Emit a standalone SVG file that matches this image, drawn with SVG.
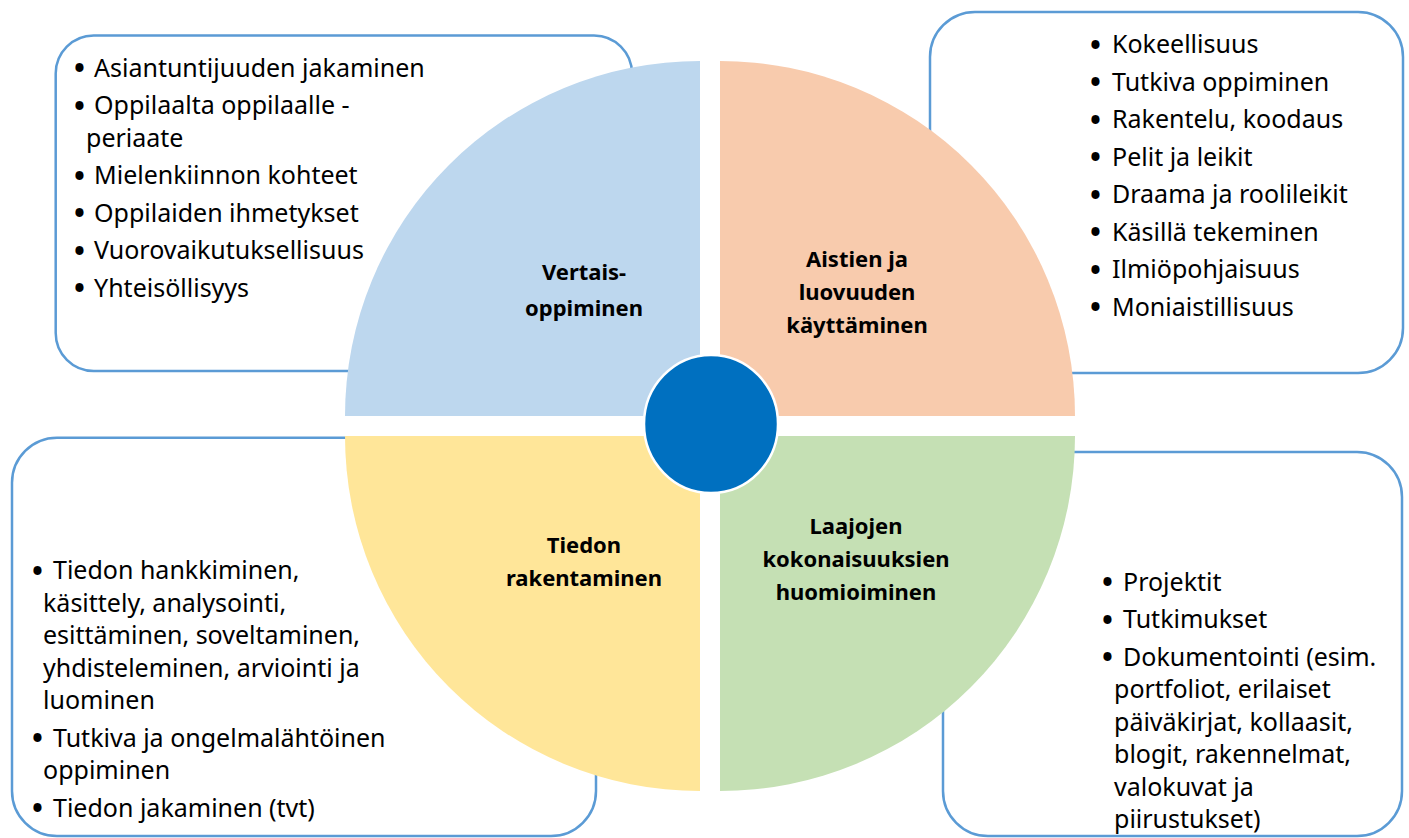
<svg xmlns="http://www.w3.org/2000/svg" width="1409" height="838" viewBox="0 0 1409 838">
<style>
.box{fill:#FFFFFF;stroke:#5B9BD5;stroke-width:2.5}
.t{font-family:"Noto Sans","Open Sans",sans-serif;font-size:25px;fill:#000}
.b{font-family:"Noto Sans","Open Sans",sans-serif;font-size:29px;font-weight:bold;fill:#000}
.lbl{font-family:"Noto Sans","Open Sans",sans-serif;font-size:22px;font-weight:bold;fill:#000;text-anchor:middle}
</style>
<rect width="1409" height="838" fill="#FFFFFF"/>
<g id="connectors"/>
<g id="box-tl">
<rect class="box" x="55.7" y="35.6" width="576.3" height="335.4" rx="38" ry="38"/>
<text class="b" x="74" y="78">•</text><text class="t" x="94" y="76.5">Asiantuntijuuden jakaminen</text>
<text class="b" x="74" y="115.5">•</text><text class="t" x="94" y="114">Oppilaalta oppilaalle -</text>
<text class="t" x="86" y="146.5">periaate</text>
<text class="b" x="74" y="185.5">•</text><text class="t" x="94" y="184">Mielenkiinnon kohteet</text>
<text class="b" x="74" y="223">•</text><text class="t" x="94" y="221.5">Oppilaiden ihmetykset</text>
<text class="b" x="74" y="260.5">•</text><text class="t" x="94" y="259">Vuorovaikutuksellisuus</text>
<text class="b" x="74" y="298">•</text><text class="t" x="94" y="296.5">Yhteisöllisyys</text>
</g>
<g id="box-tr">
<rect class="box" x="930" y="12" width="473" height="361" rx="45" ry="45"/>
<text class="b" x="1090" y="54.5">•</text><text class="t" x="1112" y="53">Kokeellisuus</text>
<text class="b" x="1090" y="92">•</text><text class="t" x="1112" y="90.5">Tutkiva oppiminen</text>
<text class="b" x="1090" y="129.5">•</text><text class="t" x="1112" y="128">Rakentelu, koodaus</text>
<text class="b" x="1090" y="167">•</text><text class="t" x="1112" y="165.5">Pelit ja leikit</text>
<text class="b" x="1090" y="204.5">•</text><text class="t" x="1112" y="203">Draama ja roolileikit</text>
<text class="b" x="1090" y="242">•</text><text class="t" x="1112" y="240.5">Käsillä tekeminen</text>
<text class="b" x="1090" y="279.5">•</text><text class="t" x="1112" y="278">Ilmiöpohjaisuus</text>
<text class="b" x="1090" y="317">•</text><text class="t" x="1112" y="315.5">Moniaistillisuus</text>
</g>
<g id="box-bl">
<rect class="box" x="12" y="437.7" width="584" height="398.3" rx="45" ry="45"/>
<text class="b" x="32" y="580.5">•</text><text class="t" x="53" y="579">Tiedon hankkiminen,</text>
<text class="t" x="43" y="611.5">käsittely, analysointi,</text>
<text class="t" x="43" y="644">esittäminen, soveltaminen,</text>
<text class="t" x="43" y="676.5">yhdisteleminen, arviointi ja</text>
<text class="t" x="43" y="709">luominen</text>
<text class="b" x="32" y="748">•</text><text class="t" x="53" y="746.5">Tutkiva ja ongelmalähtöinen</text>
<text class="t" x="43" y="779">oppiminen</text>
<text class="b" x="32" y="818">•</text><text class="t" x="53" y="816.5">Tiedon jakaminen (tvt)</text>
</g>
<g id="box-br">
<rect class="box" x="943" y="452" width="459" height="384" rx="45" ry="45"/>
<text class="b" x="1102" y="592">•</text><text class="t" x="1123" y="590.5">Projektit</text>
<text class="b" x="1102" y="629.5">•</text><text class="t" x="1123" y="628">Tutkimukset</text>
<text class="b" x="1102" y="667">•</text><text class="t" x="1123" y="665.5">Dokumentointi (esim.</text>
<text class="t" x="1114" y="698">portfoliot, erilaiset</text>
<text class="t" x="1114" y="730.5">päiväkirjat, kollaasit,</text>
<text class="t" x="1114" y="763">blogit, rakennelmat,</text>
<text class="t" x="1114" y="795.5">valokuvat ja</text>
<text class="t" x="1114" y="828">piirustukset)</text>
</g>
<g id="q-vertais">
<path d="M700,416 L345,416 A355,355 0 0 1 700,61 Z" fill="#BDD7EE"/>
<text class="lbl" x="584" y="280">Vertais-</text>
<text class="lbl" x="584" y="316">oppiminen</text>
</g>
<g id="q-aistien">
<path d="M720,416 L720,61 A355,355 0 0 1 1075,416 Z" fill="#F8CBAD"/>
<text class="lbl" x="857" y="267">Aistien ja</text>
<text class="lbl" x="857" y="300">luovuuden</text>
<text class="lbl" x="857" y="333">käyttäminen</text>
</g>
<g id="q-tiedon">
<path d="M700,436 L700,791 A355,355 0 0 1 345,436 Z" fill="#FFE699"/>
<text class="lbl" x="584" y="553">Tiedon</text>
<text class="lbl" x="584" y="586">rakentaminen</text>
</g>
<g id="q-laajojen">
<path d="M720,436 L1075,436 A355,355 0 0 1 720,791 Z" fill="#C5E0B4"/>
<text class="lbl" x="856" y="534">Laajojen</text>
<text class="lbl" x="856" y="567">kokonaisuuksien</text>
<text class="lbl" x="856" y="600">huomioiminen</text>
</g>
<g id="center">
<ellipse cx="711" cy="424" rx="67" ry="69" fill="#0070C0" stroke="#FFFFFF" stroke-width="2.5"/>
</g>
</svg>
